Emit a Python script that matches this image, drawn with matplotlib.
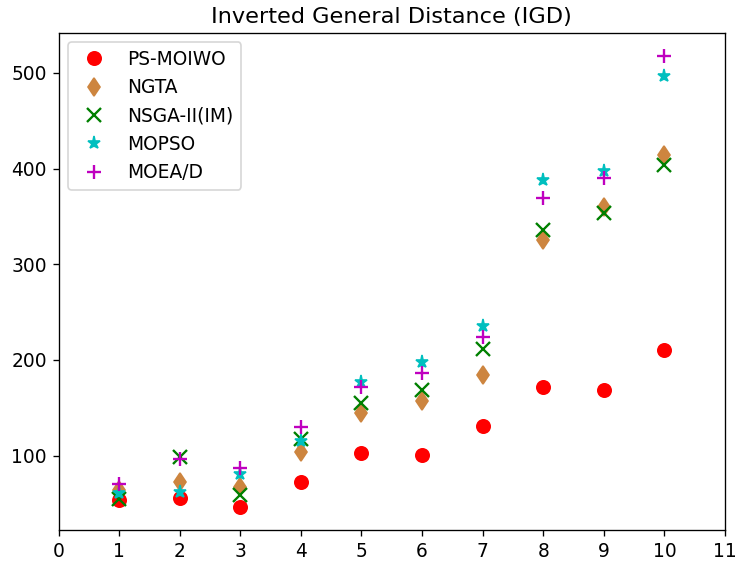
import matplotlib
matplotlib.use("Agg")
import matplotlib.pyplot as plt

x = [1, 2, 3, 4, 5, 6, 7, 8, 9, 10]
ps_moiwo = [54, 56, 46, 73, 103, 101, 131, 172, 169, 210]
ngta = [64, 73, 67, 104, 145, 157, 184, 325, 360, 414]
nsga2 = [55, 99, 59, 117, 155, 169, 211, 336, 354, 404]
mopso = [61, 62, 81, 115, 177, 198, 236, 388, 397, 497]
moead = [70, 97, 87, 130, 172, 186, 224, 369, 390, 518]
xticks = list(range(0, 12))

plt.rcParams['font.size'] = 11.2

dpi = 120
fig = plt.figure(figsize=(737 / dpi, 565 / dpi), dpi=dpi)
ax = fig.add_axes([58.5 / 737, 1 - 530 / 565, (725 - 58.5) / 737, (530 - 33) / 565])

ax.plot(x, ps_moiwo, 'o', color='red', markersize=8, linestyle='none', label='PS-MOIWO')
ax.plot(x, ngta, 'd', color='peru', markersize=8, linestyle='none', label='NGTA')
ax.plot(x, nsga2, 'x', color='green', markersize=8, markeredgewidth=1.4, linestyle='none', label='NSGA-II(IM)')
ax.plot(x, mopso, '*', color='c', markersize=8, linestyle='none', label='MOPSO')
ax.plot(x, moead, '+', color='m', markersize=8, markeredgewidth=1.4, linestyle='none', label='MOEA/D')

ax.set_xlim(0, 11)
ax.set_xticks(xticks)
ax.set_title('Inverted General Distance (IGD)')
ax.legend(loc='upper left')

fig.savefig('out.png', dpi=dpi)
